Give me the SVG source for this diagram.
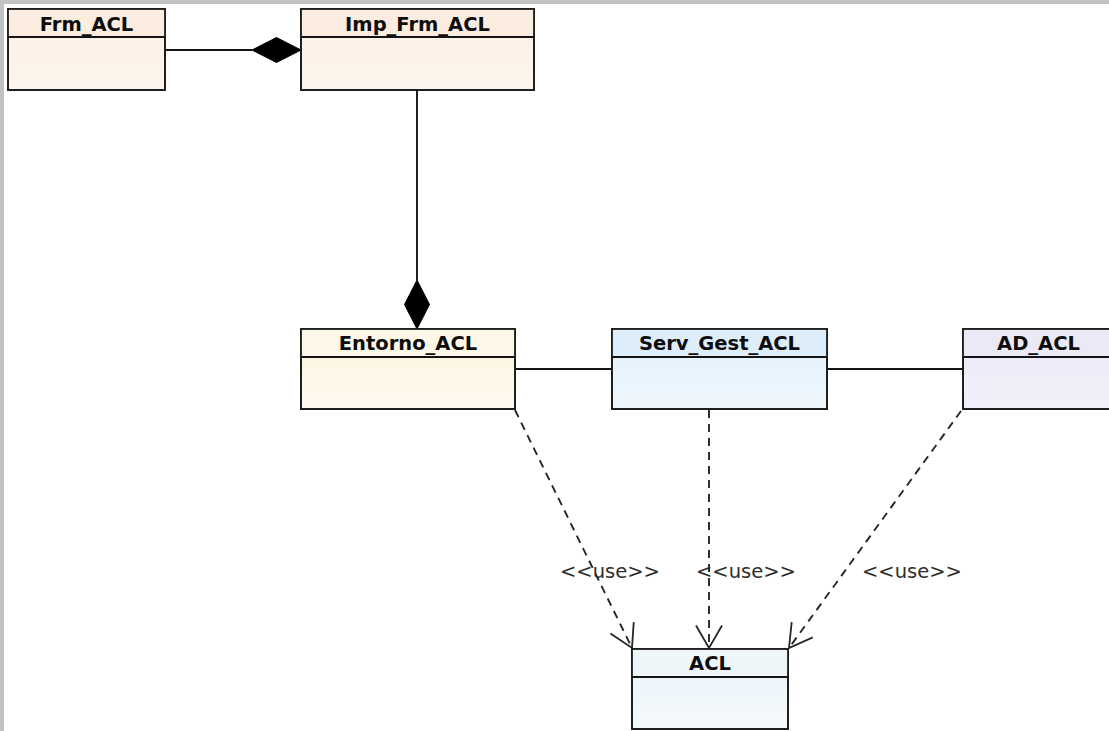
<svg xmlns="http://www.w3.org/2000/svg" width="1109" height="731" viewBox="0 0 1109 731">
  <defs>
    <style>
      .box { stroke: #141414; stroke-width: 1.9; }
      .sep { stroke: #141414; stroke-width: 1.9; fill: none; }
      .name { font-family: "DejaVu Sans", "Liberation Sans", sans-serif; font-weight: bold; font-size: 19.5px; fill: #0d0d0d; text-anchor: middle; }
      .assoc { stroke: #141414; stroke-width: 1.9; fill: none; }
      .dep { stroke: #262626; stroke-width: 1.9; fill: none; stroke-dasharray: 8 6; }
      .stereo { font-family: "DejaVu Sans", "Liberation Sans", sans-serif; font-size: 19.5px; fill: #2e2e2e; }
    </style>
    <marker id="openArrow" markerUnits="userSpaceOnUse" markerWidth="40" markerHeight="40" refX="0" refY="0" orient="auto" overflow="visible">
      <path d="M -22.5 -13 L 0 0 L -22.5 13" fill="none" stroke="#262626" stroke-width="1.8"/>
    </marker>
    <linearGradient id="gPeach" x1="0" y1="0" x2="0" y2="1">
      <stop offset="0" stop-color="#fcefe4"/>
      <stop offset="1" stop-color="#fdf5ee"/>
    </linearGradient>
    <linearGradient id="gCream" x1="0" y1="0" x2="0" y2="1">
      <stop offset="0" stop-color="#fdf3dc"/>
      <stop offset="1" stop-color="#fffaf1"/>
    </linearGradient>
    <linearGradient id="gBlue" x1="0" y1="0" x2="0" y2="1">
      <stop offset="0" stop-color="#e2f0fb"/>
      <stop offset="1" stop-color="#eff7fd"/>
    </linearGradient>
    <linearGradient id="gLav" x1="0" y1="0" x2="0" y2="1">
      <stop offset="0" stop-color="#e9e7f6"/>
      <stop offset="1" stop-color="#f2f1fa"/>
    </linearGradient>
    <linearGradient id="gIce" x1="0" y1="0" x2="0" y2="1">
      <stop offset="0" stop-color="#eaf3f9"/>
      <stop offset="1" stop-color="#f4f9fc"/>
    </linearGradient>
  </defs>

  <!-- canvas with grey frame on top and left -->
  <rect x="0" y="0" width="1109" height="731" fill="#ffffff"/>
  <rect x="0" y="0" width="1109" height="4" fill="#c2c2c2"/>
  <rect x="0" y="0" width="4" height="731" fill="#c2c2c2"/>

  <!-- connectors -->
  <g id="connectors">
    <!-- composition Frm_ACL - Imp_Frm_ACL -->
    <line class="assoc" x1="165" y1="50" x2="252" y2="50"/>
    <polygon points="301,50 276.5,37.5 252,50 276.5,62.5" fill="#000" stroke="#000" stroke-width="1"/>
    <!-- composition Imp_Frm_ACL - Entorno_ACL -->
    <line class="assoc" x1="417" y1="90" x2="417" y2="280"/>
    <polygon points="417,329 404.5,304.5 417,280 429.5,304.5" fill="#000" stroke="#000" stroke-width="1"/>
    <!-- associations -->
    <line class="assoc" x1="515" y1="369" x2="612" y2="369"/>
    <line class="assoc" x1="827" y1="369" x2="963" y2="369"/>
    <!-- use dependencies -->
    <line class="dep" x1="515" y1="410" x2="632" y2="648" marker-end="url(#openArrow)"/>
    <line class="dep" x1="709" y1="410" x2="709" y2="648" marker-end="url(#openArrow)"/>
    <line class="dep" x1="961" y1="411" x2="789" y2="648" marker-end="url(#openArrow)"/>
    <text class="stereo" x="560" y="578">&lt;&lt;use&gt;&gt;</text>
    <text class="stereo" x="696" y="578">&lt;&lt;use&gt;&gt;</text>
    <text class="stereo" x="862" y="578">&lt;&lt;use&gt;&gt;</text>
  </g>

  <g id="Frm_ACL">
    <rect class="box" x="8" y="9" width="157" height="81" fill="url(#gPeach)"/>
    <rect x="8.9" y="9.9" width="155.2" height="27.1" fill="#fbece0"/>
    <line class="sep" x1="8" y1="37" x2="165" y2="37"/>
    <text class="name" x="86.5" y="31">Frm_ACL</text>
  </g>

  <g id="Imp_Frm_ACL">
    <rect class="box" x="301" y="9" width="233" height="81" fill="url(#gPeach)"/>
    <rect x="301.9" y="9.9" width="231.2" height="27.1" fill="#fbece0"/>
    <line class="sep" x1="301" y1="37" x2="534" y2="37"/>
    <text class="name" x="417.5" y="31">Imp_Frm_ACL</text>
  </g>

  <g id="Entorno_ACL">
    <rect class="box" x="301" y="329" width="214" height="80" fill="url(#gCream)"/>
    <rect x="301.9" y="329.9" width="212.2" height="27.1" fill="#fdf8e8"/>
    <line class="sep" x1="301" y1="357" x2="515" y2="357"/>
    <text class="name" x="408" y="350">Entorno_ACL</text>
  </g>

  <g id="Serv_Gest_ACL">
    <rect class="box" x="612" y="329" width="215" height="80" fill="url(#gBlue)"/>
    <rect x="612.9" y="329.9" width="213.2" height="27.1" fill="#ddeefa"/>
    <line class="sep" x1="612" y1="357" x2="827" y2="357"/>
    <text class="name" x="719.5" y="350">Serv_Gest_ACL</text>
  </g>

  <g id="AD_ACL">
    <rect class="box" x="963" y="329" width="151" height="80" fill="url(#gLav)"/>
    <rect x="963.9" y="329.9" width="149.2" height="27.1" fill="#ebe9f6"/>
    <line class="sep" x1="963" y1="357" x2="1114" y2="357"/>
    <text class="name" x="1038.5" y="350">AD_ACL</text>
  </g>

  <g id="ACL">
    <rect class="box" x="632" y="649" width="156" height="80" fill="url(#gIce)"/>
    <rect x="632.9" y="649.9" width="154.2" height="27.1" fill="#eff6fa"/>
    <line class="sep" x1="632" y1="677" x2="788" y2="677"/>
    <text class="name" x="710" y="670">ACL</text>
  </g>
</svg>
